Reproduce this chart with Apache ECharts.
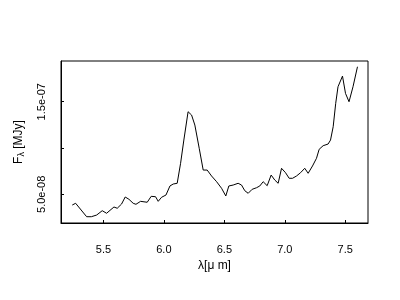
<!DOCTYPE html>
<html><head><meta charset="utf-8">
<script src="https://cdn.jsdelivr.net/npm/echarts@6/dist/echarts.min.js"></script>
<style>html,body{margin:0;padding:0;background:#fff}#c{width:400px;height:300px}</style>
</head><body><div id="c"></div>
<script>
var wavelength = [5.242,5.27,5.361,5.40,5.444,5.49,5.526,5.587,5.614,5.65,5.68,5.711,5.746,5.769,5.807,5.862,5.895,5.931,5.953,5.981,6.017,6.05,6.077,6.11,6.138,6.165,6.20,6.229,6.256,6.292,6.325,6.358,6.394,6.436,6.477,6.512,6.537,6.573,6.614,6.642,6.669,6.697,6.73,6.766,6.793,6.821,6.854,6.887,6.917,6.945,6.973,7.006,7.036,7.064,7.097,7.13,7.165,7.193,7.229,7.262,7.284,7.317,7.358,7.378,7.40,7.421,7.44,7.477,7.502,7.531,7.564,7.601];
var flux = [3.84e-8,4.03e-8,2.58e-8,2.58e-8,2.76e-8,3.23e-8,2.95e-8,3.63e-8,3.49e-8,3.95e-8,4.71e-8,4.46e-8,4.03e-8,3.92e-8,4.24e-8,4.14e-8,4.78e-8,4.74e-8,4.24e-8,4.68e-8,4.92e-8,5.9e-8,6.11e-8,6.19e-8,8.35e-8,10.86e-8,13.92e-8,13.56e-8,12.48e-8,9.97e-8,7.62e-8,7.62e-8,6.98e-8,6.36e-8,5.65e-8,4.82e-8,5.9e-8,6.0e-8,6.19e-8,6.0e-8,5.39e-8,5.11e-8,5.54e-8,5.71e-8,5.9e-8,6.36e-8,5.93e-8,7.08e-8,6.54e-8,6.19e-8,7.81e-8,7.33e-8,6.73e-8,6.73e-8,6.98e-8,7.33e-8,7.81e-8,7.27e-8,8.06e-8,8.89e-8,9.86e-8,10.25e-8,10.43e-8,10.86e-8,12.3e-8,14.83e-8,16.62e-8,17.77e-8,15.9e-8,15.0e-8,16.62e-8,18.78e-8];
var xTicks = [5.5,6.0,6.5,7.0,7.5];
var yTicks = [5e-8,1e-7,1.5e-7];
var yLabelTicks = [5e-8,1.5e-7];

function fmtExp(v){
  var s = v.toExponential(1);
  var p = s.split('e');
  var e = parseInt(p[1],10);
  var sign = e<0?'-':'+';
  var a = Math.abs(e);
  return p[0]+'e'+sign+(a<10?'0'+a:a);
}
var data = wavelength.map(function(x,i){return [x,flux[i]];});
var chart = echarts.init(document.getElementById('c'),null,{renderer:'canvas'});
var font = 'Liberation Sans, Arial, sans-serif';
chart.setOption({
  animation:false,
  backgroundColor:'#fff',
  grid:{left:61,top:61,right:32,bottom:77,show:true,borderColor:'#000',borderWidth:1,backgroundColor:'transparent'},
  xAxis:{type:'value',min:5.149,max:7.688,
    name:'λ[μ m]',nameLocation:'middle',nameGap:36,
    nameTextStyle:{color:'#000',fontSize:12,fontFamily:font},
    axisLine:{show:true,lineStyle:{color:'#000',width:1}},
    axisTick:{show:true,inside:true,length:3,customValues:xTicks,lineStyle:{color:'#000'}},
    axisLabel:{show:true,customValues:xTicks,margin:21,color:'#000',fontSize:11,fontFamily:font,
      formatter:function(v){return v.toFixed(1);}},
    splitLine:{show:false}},
  yAxis:{type:'value',min:1.9e-8,max:1.94e-7,
    name:'{a|F}{s|λ}{a| [MJy]}',nameLocation:'middle',nameGap:35,nameRotate:90,
    nameTextStyle:{color:'#000',fontSize:12,fontFamily:font,
      rich:{a:{fontSize:12,fontFamily:font,color:'#000'},s:{fontSize:9,fontFamily:font,color:'#000',verticalAlign:'bottom',padding:[5,0,0,0]}}},
    axisLine:{show:true,lineStyle:{color:'#000',width:1}},
    axisTick:{show:true,inside:true,length:3,customValues:yTicks,lineStyle:{color:'#000'}},
    axisLabel:{show:true,customValues:yLabelTicks,rotate:90,margin:14,color:'#000',fontSize:11,fontFamily:font,
      formatter:function(v){return fmtExp(v);}},
    splitLine:{show:false}},
  series:[{type:'line',data:data,showSymbol:false,symbol:'none',
    lineStyle:{color:'#000',width:1},itemStyle:{color:'#000'}}]
});
</script></body></html>
